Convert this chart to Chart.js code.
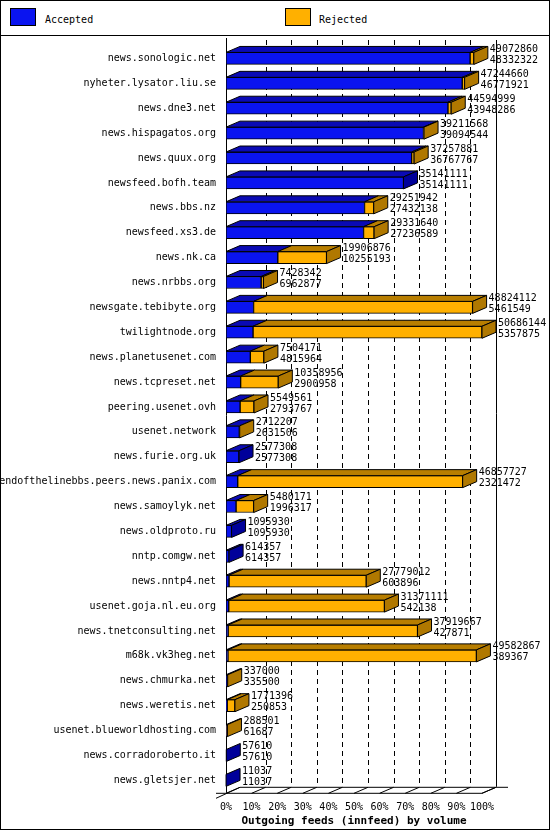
<!DOCTYPE html>
<html>
<head>
<meta charset="utf-8">
<script src="https://cdn.jsdelivr.net/npm/chart.js@4/dist/chart.umd.min.js"></script>
<style>
  html, body { margin: 0; padding: 0; background: #fff; }
  #frame { position: relative; width: 548px; height: 828px; border: 1px solid #000; overflow: hidden; }
  #legend { position: absolute; left: 0; top: 0; width: 548px; height: 34px; border-bottom: 1px solid #000;
            font: 10px "DejaVu Sans Mono", monospace; }
  .box { position: absolute; top: 7px; width: 24px; height: 16px; border: 1px solid #000; }
  .lbl { position: absolute; top: 13px; }
  #wrap { position: absolute; left: 0; top: 35px; width: 548px; height: 793px; }
</style>
</head>
<body>
<div id="frame">
  <div id="legend">
    <div class="box" style="left:9px;background:#0a14f0"></div>
    <div class="lbl" style="left:44px">Accepted</div>
    <div class="box" style="left:284px;background:#ffb000"></div>
    <div class="lbl" style="left:318px">Rejected</div>
  </div>
  <div id="wrap"><canvas id="c"></canvas></div>
</div>
<script>
(function () {
    "use strict";

    // ======================================================================
    // Data
    //
    const sites = [
        'news.sonologic.net', 'nyheter.lysator.liu.se', 'news.dne3.net', 'news.hispagatos.org',
        'news.quux.org', 'newsfeed.bofh.team', 'news.bbs.nz', 'newsfeed.xs3.de', 'news.nk.ca',
        'news.nrbbs.org', 'newsgate.tebibyte.org', 'twilightnode.org', 'news.planetusenet.com',
        'news.tcpreset.net', 'peering.usenet.ovh', 'usenet.network', 'news.furie.org.uk',
        'endofthelinebbs.peers.news.panix.com', 'news.samoylyk.net', 'news.oldproto.ru',
        'nntp.comgw.net', 'news.nntp4.net', 'usenet.goja.nl.eu.org', 'news.tnetconsulting.net',
        'm68k.vk3heg.net', 'news.chmurka.net', 'news.weretis.net', 'usenet.blueworldhosting.com',
        'news.corradoroberto.it', 'news.gletsjer.net'
    ];
    const offered = [
        49072860, 47244660, 44594999, 39211568, 37257881, 35141111, 29251942, 29331640, 19906876,
        7428342, 48824112, 50686144, 7504171, 10358956, 5549561, 2712207, 2577308, 46857727,
        5480171, 1095930, 614357, 27779012, 31371111, 37919667, 49582867, 337000, 1771396,
        288501, 57610, 11037
    ];
    const accepted = [
        48332322, 46771921, 43948286, 39094544, 36767767, 35141111, 27432138, 27236589, 10255193,
        6962877, 5461549, 5357875, 4815964, 2900958, 2793767, 2631506, 2577308, 2321472,
        1996317, 1095930, 614357, 603896, 542138, 427871, 389367, 335500, 250853,
        61687, 57610, 11037
    ];
    const rejected = offered.map((v, i) => v - accepted[i]);
    const maxVolume = Math.max(...offered);

    const DX = 14, DY = 6;
    const MONO = '"DejaVu Sans Mono", monospace';
    const colors = [
        { front: '#0a14f0', top: '#0a0ab4', side: '#00009a' },
        { front: '#ffb000', top: '#b87e00', side: '#b07800' }
    ];

    // ======================================================================
    // 3D faces, grid and value labels
    //
    const depthPlugin = {
        id: 'depth',
        beforeDatasetsDraw(chart) {
            const { ctx, chartArea: a, scales: { x } } = chart;
            ctx.save();
            ctx.strokeStyle = '#000';
            ctx.lineWidth = 1;
            for (let i = 1; i <= 10; i++) {
                const px = Math.round(x.getPixelForValue(maxVolume * i / 10)) + DX + 0.5;
                ctx.setLineDash(i === 10 ? [] : [5, 4]);
                ctx.beginPath();
                ctx.moveTo(px, a.top - 6);
                ctx.lineTo(px, a.bottom - DY);
                ctx.stroke();
            }
            ctx.setLineDash([]);
            // floor
            const x0 = x.getPixelForValue(0), x1 = x.getPixelForValue(maxVolume);
            ctx.beginPath();
            ctx.moveTo(x0 - 10, a.bottom + 0.5 + 5);
            ctx.lineTo(x0 + DX, a.bottom - DY + 0.5);
            ctx.lineTo(x1 + DX + 12, a.bottom - DY + 0.5);
            ctx.moveTo(x1, a.bottom + 0.5);
            ctx.lineTo(x1 + DX, a.bottom - DY + 0.5);
            ctx.stroke();
            for (let i = 0; i <= 10; i++) {
                const px = x.getPixelForValue(maxVolume * i / 10);
                ctx.beginPath();
                ctx.moveTo(px, a.bottom + 0.5);
                ctx.lineTo(px + DX, a.bottom - DY + 0.5);
                ctx.stroke();
            }
            // y axis line
            ctx.beginPath();
            ctx.moveTo(Math.round(x0) + 0.5, a.top - 8);
            ctx.lineTo(Math.round(x0) + 0.5, a.bottom);
            ctx.moveTo(x0 - 10, a.bottom + 0.5);
            ctx.lineTo(x1, a.bottom + 0.5);
            ctx.stroke();
            ctx.restore();
        },
        afterDatasetsDraw(chart) {
            const { ctx } = chart;
            const m0 = chart.getDatasetMeta(0).data, m1 = chart.getDatasetMeta(1).data;
            ctx.save();
            ctx.strokeStyle = '#000';
            ctx.lineWidth = 1;
            const poly = (pts, fill) => {
                ctx.beginPath();
                ctx.moveTo(pts[0][0], pts[0][1]);
                pts.slice(1).forEach(p => ctx.lineTo(p[0], p[1]));
                ctx.closePath();
                ctx.fillStyle = fill;
                ctx.fill();
                ctx.stroke();
            };
            sites.forEach((s, i) => {
                [m0[i], m1[i]].forEach((bar, k) => {
                    const { x, base, y, height } = bar.getProps(['x', 'base', 'y', 'height'], true);
                    if (x - base < 0.5) return;
                    const t = y - height / 2;
                    poly([[base, t], [x, t], [x + DX, t - DY], [base + DX, t - DY]], colors[k].top);
                });
                const last = rejected[i] > 0 ? m1[i] : m0[i];
                const k = rejected[i] > 0 ? 1 : 0;
                const { x, y, height } = last.getProps(['x', 'y', 'height'], true);
                const t = y - height / 2, b = y + height / 2;
                poly([[x, t], [x + DX, t - DY], [x + DX, b - DY], [x, b]], colors[k].side);

                ctx.fillStyle = '#000';
                ctx.font = '10px ' + MONO;
                ctx.textBaseline = 'middle';
                ctx.textAlign = 'left';
                ctx.fillText(String(offered[i]), x + DX + 2, y - 9);
                ctx.fillText(String(accepted[i]), x + DX + 2, y + 2);
            });
            ctx.restore();
        }
    };

    // ======================================================================
    // Chart
    //
    new Chart(document.getElementById('c'), {
        type: 'bar',
        data: {
            labels: sites,
            datasets: [
                { label: 'Accepted', data: accepted, backgroundColor: colors[0].front },
                { label: 'Rejected', data: rejected, backgroundColor: colors[1].front }
            ]
        },
        options: {
            indexAxis: 'y',
            responsive: true,
            maintainAspectRatio: false,
            animation: false,
            layout: { padding: { top: 10, right: 67, left: 0, bottom: 0 } },
            datasets: { bar: { barThickness: 12, borderColor: '#000', borderWidth: 1, borderSkipped: false } },
            plugins: { legend: { display: false }, tooltip: { enabled: false } },
            scales: {
                x: {
                    stacked: true, min: 0, max: maxVolume,
                    grid: { display: false }, border: { display: false },
                    ticks: {
                        stepSize: maxVolume / 10, autoSkip: false, maxRotation: 0, padding: 1,
                        color: '#000', font: { family: MONO, size: 10 },
                        callback: v => Math.round(v / maxVolume * 100) + '%'
                    },
                    title: {
                        display: true, text: 'Outgoing feeds (innfeed) by volume', color: '#000',
                        font: { family: MONO, size: 11, weight: 'bold' }, padding: { top: 0, bottom: 1 }
                    }
                },
                y: {
                    stacked: true,
                    grid: { display: false }, border: { display: false },
                    afterFit: s => { s.width = 225; },
                    ticks: { color: '#000', font: { family: MONO, size: 10 }, padding: 2 }
                }
            }
        },
        plugins: [depthPlugin]
    });
})();
</script>
</body>
</html>
